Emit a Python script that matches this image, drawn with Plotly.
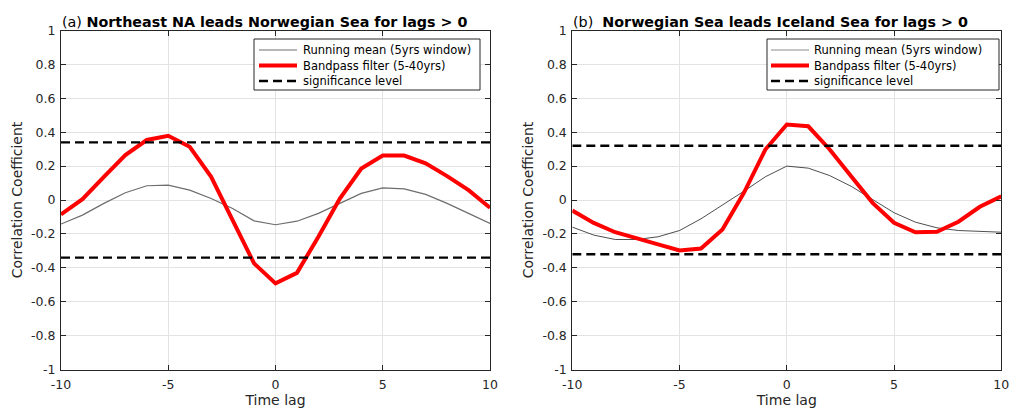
import plotly.graph_objects as go

# Time lags (years)
lags = list(range(-10, 11))

# Panel (a): Northeast NA vs Norwegian Sea
a_running = [-0.142, -0.089, -0.020, 0.043, 0.084, 0.088, 0.058, 0.009, -0.050, -0.123,
             -0.146, -0.125, -0.079, -0.020, 0.039, 0.072, 0.066, 0.033, -0.020, -0.079, -0.138]
a_bandpass = [-0.085, 0.005, 0.137, 0.265, 0.354, 0.379, 0.314, 0.137, -0.119, -0.374,
              -0.492, -0.430, -0.217, 0.009, 0.186, 0.262, 0.262, 0.216, 0.141, 0.058, -0.046]
a_sig = 0.34

# Panel (b): Norwegian Sea vs Iceland Sea
b_running = [-0.160, -0.207, -0.233, -0.233, -0.217, -0.180, -0.111, -0.032, 0.052, 0.137,
             0.200, 0.188, 0.144, 0.081, 0.003, -0.075, -0.131, -0.164, -0.180, -0.186, -0.190]
b_bandpass = [-0.062, -0.135, -0.190, -0.223, -0.262, -0.298, -0.286, -0.174, 0.042, 0.298,
              0.445, 0.435, 0.298, 0.140, -0.017, -0.134, -0.190, -0.188, -0.128, -0.040, 0.022]
b_sig = 0.32

x_ticks = [-10, -5, 0, 5, 10]
y_ticks = [-1, -0.8, -0.6, -0.4, -0.2, 0, 0.2, 0.4, 0.6, 0.8, 1]
y_ticktext = ["-1", "-0.8", "-0.6", "-0.4", "-0.2", "0", "0.2", "0.4", "0.6", "0.8", "1"]

titles = ["(a) <b>Northeast NA leads Norwegian Sea for lags > 0</b>",
          "(b)  <b>Norwegian Sea leads Iceland Sea for lags > 0</b>"]
legend_labels = ["Running mean (5yrs window)", "Bandpass filter (5-40yrs)", "significance level"]

W, H = 1011, 408
FONT = "DejaVu Sans"
AXC = "#262626"
DASH = "9px,5px"

x_domains = [(61 / W, 490 / W), (572.3 / W, 1001.3 / W)]
y_domain = (1 - 369.5 / H, 1 - 30.5 / H)


def px(x):
    return x / W


def py(y):
    return 1 - y / H


fig = go.Figure()

# line styles per panel: (running-mean colour, running-mean width)
panels = [
    (a_running, a_bandpass, a_sig, "#6e6e6e", 1.2),
    (b_running, b_bandpass, b_sig, "#3a3a3a", 0.9),
]

for i, (run, band, sig, gcol, gw) in enumerate(panels):
    xa = "x" if i == 0 else "x2"
    ya = "y" if i == 0 else "y2"
    fig.add_trace(go.Scatter(x=lags, y=run, mode="lines", xaxis=xa, yaxis=ya,
                             line=dict(color=gcol, width=gw), name=legend_labels[0]))
    fig.add_trace(go.Scatter(x=lags, y=band, mode="lines", xaxis=xa, yaxis=ya,
                             line=dict(color="#ff0000", width=4), name=legend_labels[1]))
    for s in (sig, -sig):
        fig.add_trace(go.Scatter(x=[-10, 10], y=[s, s], mode="lines", xaxis=xa, yaxis=ya,
                                 line=dict(color="black", width=2.3, dash=DASH),
                                 name=legend_labels[2]))

axis_common = dict(
    showline=True, linecolor=AXC, linewidth=1, mirror="ticks",
    ticks="inside", ticklen=5, tickcolor=AXC, tickwidth=1,
    showgrid=True, gridcolor="#e3e3e3", gridwidth=1, zeroline=False,
    tickfont=dict(family=FONT, size=12.5, color=AXC), automargin=False,
)

layout = dict(
    width=W, height=H, margin=dict(l=0, r=0, t=0, b=0, pad=0, autoexpand=False),
    paper_bgcolor="white", plot_bgcolor="white",
    font=dict(family=FONT, color=AXC), showlegend=False,
)

for i in range(2):
    sx = "" if i == 0 else "2"
    layout["xaxis" + sx] = dict(
        axis_common, domain=list(x_domains[i]), range=[-10, 10],
        tickvals=x_ticks, ticktext=[str(v) for v in x_ticks],
        anchor="y" + sx, ticklabelstandoff=3,
        title=dict(text="Time lag", font=dict(family=FONT, size=14, color=AXC), standoff=11),
    )
    layout["yaxis" + sx] = dict(
        axis_common, domain=list(y_domain), range=[-1, 1],
        tickvals=y_ticks, ticktext=y_ticktext, anchor="x" + sx, ticklabelstandoff=2,
        title=dict(text="Correlation Coefficient", font=dict(family=FONT, size=14, color=AXC), standoff=5),
    )

# Legend boxes drawn in paper coordinates (left, right, top, bottom, sample start, sample end, text x)
legend_boxes = [
    (254, 480, 39, 90, 259, 297, 302),
    (767, 999, 39, 90, 771, 809, 813),
]
row_y = [50, 65.5, 81]
sample_styles = [
    dict(color="#6e6e6e", width=1.2),
    dict(color="#ff0000", width=4),
    dict(color="black", width=2.3, dash=DASH),
]

shapes = []
annotations = []
for i, (l, r, t, b, s0, s1, tx) in enumerate(legend_boxes):
    shapes.append(dict(type="rect", xref="paper", yref="paper",
                       x0=px(l), x1=px(r), y0=py(b), y1=py(t),
                       line=dict(color=AXC, width=1), fillcolor="white", layer="above"))
    for k in range(3):
        style = dict(sample_styles[k])
        if k == 0 and i == 1:
            style = dict(color="#8c8c8c", width=1.2)
        shapes.append(dict(type="line", xref="paper", yref="paper",
                           x0=px(s0), x1=px(s1), y0=py(row_y[k]), y1=py(row_y[k]),
                           line=style, layer="above"))
        annotations.append(dict(text=legend_labels[k], xref="paper", yref="paper",
                                x=px(tx), y=py(row_y[k]), xanchor="left", yanchor="middle",
                                showarrow=False, borderpad=0,
                                font=dict(family=FONT, size=11.5, color="black")))

for i in range(2):
    annotations.append(dict(
        text=titles[i], xref="paper", yref="paper",
        x=x_domains[i][0], y=py(21.5), xanchor="left", yanchor="middle",
        showarrow=False, borderpad=0, font=dict(family=FONT, size=14.3, color="black"),
    ))

layout["shapes"] = shapes
layout["annotations"] = annotations

fig.update_layout(**layout)
fig.write_html("out.html")
